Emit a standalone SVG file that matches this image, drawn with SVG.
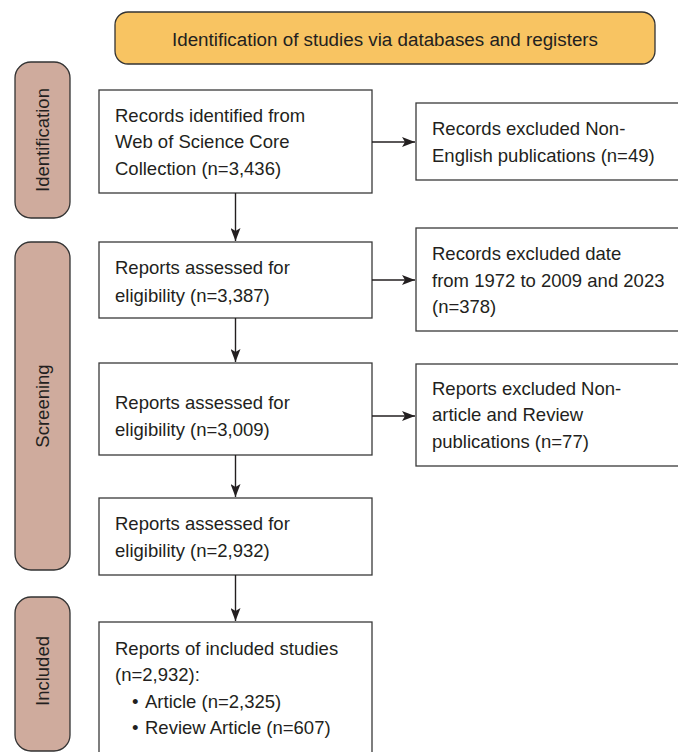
<svg xmlns="http://www.w3.org/2000/svg" width="678" height="752" viewBox="0 0 678 752">
<style>
text{font-family:"Liberation Sans",Arial,sans-serif;font-size:18.5px;fill:#231f20}
.box{fill:#fff;stroke:#3a3a3a;stroke-width:1.3}
.side{fill:#cfab9d;stroke:#333;stroke-width:1.3}
.hdr{fill:#f8c462;stroke:#333;stroke-width:1.3}
.con{stroke:#231f20;stroke-width:1.4;fill:none;marker-end:url(#ah)}
</style>
<defs>
<marker id="ah" viewBox="0 0 13 10" refX="13" refY="5" markerWidth="13" markerHeight="10" markerUnits="userSpaceOnUse" orient="auto">
<path d="M0,0 L13,5 L0,10 L3,5 Z" fill="#231f20"/>
</marker>
</defs>
<g id="header">
<rect class="hdr" x="115" y="12" width="540" height="52" rx="13"/>
<text x="385" y="46" text-anchor="middle" style="font-size:18.8px">Identification of studies via databases and registers</text>
</g>
<g id="side-identification">
<rect class="side" x="15" y="62" width="55" height="156" rx="16"/>
<text transform="translate(49,140) rotate(-90)" text-anchor="middle">Identification</text>
</g>
<g id="side-screening">
<rect class="side" x="15" y="242" width="55" height="328" rx="16"/>
<text transform="translate(49,406) rotate(-90)" text-anchor="middle">Screening</text>
</g>
<g id="side-included">
<rect class="side" x="15" y="597" width="55" height="154" rx="16"/>
<text transform="translate(49,671) rotate(-90)" text-anchor="middle">Included</text>
</g>
<g id="b1">
<rect class="box" x="99" y="90" width="273" height="103"/>
<text x="115" y="122">Records identified from</text>
<text x="115" y="148">Web of Science Core</text>
<text x="115" y="175">Collection (n=3,436)</text>
</g>
<g id="e1">
<rect class="box" x="416" y="103" width="280" height="77"/>
<text x="432" y="135">Records excluded Non-</text>
<text x="432" y="162">English publications (n=49)</text>
</g>
<g id="b2">
<rect class="box" x="99" y="242" width="273" height="76"/>
<text x="115" y="274">Reports assessed for</text>
<text x="115" y="302">eligibility (n=3,387)</text>
</g>
<g id="e2">
<rect class="box" x="416" y="228" width="280" height="103"/>
<text x="432" y="260">Records excluded date</text>
<text x="432" y="287">from 1972 to 2009 and 2023</text>
<text x="432" y="313">(n=378)</text>
</g>
<g id="b3">
<rect class="box" x="99" y="363" width="273" height="92"/>
<text x="115" y="409">Reports assessed for</text>
<text x="115" y="436">eligibility (n=3,009)</text>
</g>
<g id="e3">
<rect class="box" x="416" y="364" width="280" height="102"/>
<text x="432" y="395">Reports excluded Non-</text>
<text x="432" y="421">article and Review</text>
<text x="432" y="448">publications (n=77)</text>
</g>
<g id="b4">
<rect class="box" x="99" y="498" width="273" height="77"/>
<text x="115" y="530">Reports assessed for</text>
<text x="115" y="557">eligibility (n=2,932)</text>
</g>
<g id="b5">
<rect class="box" x="99" y="622" width="273" height="140"/>
<text x="115" y="655">Reports of included studies</text>
<text x="115" y="681">(n=2,932):</text>
<text x="132" y="708">•</text>
<text x="145" y="708">Article (n=2,325)</text>
<text x="132" y="734">•</text>
<text x="145" y="734">Review Article (n=607)</text>
</g>
<g id="connectors">
<path class="con" d="M372,142 H415"/>
<path class="con" d="M235.5,193 V241"/>
<path class="con" d="M372,280 H415"/>
<path class="con" d="M235.5,318 V362"/>
<path class="con" d="M372,416 H415"/>
<path class="con" d="M235.5,455 V497"/>
<path class="con" d="M235.5,575 V621"/>
</g>
</svg>
